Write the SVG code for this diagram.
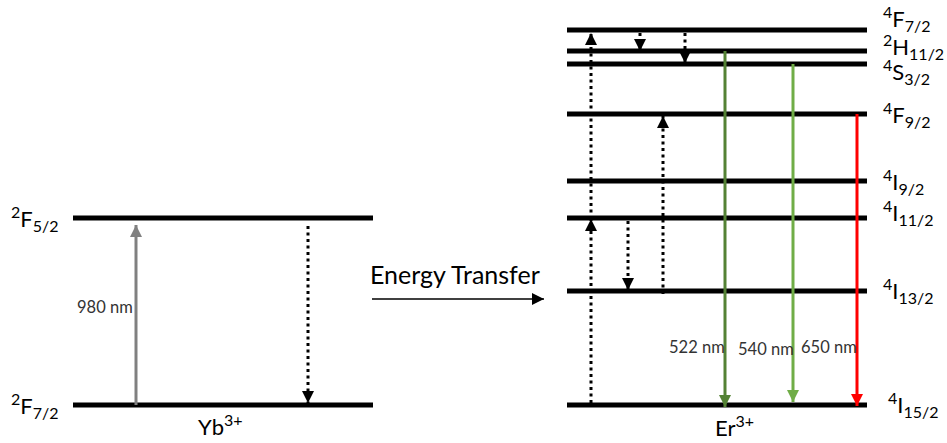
<svg xmlns="http://www.w3.org/2000/svg" width="947" height="443" viewBox="0 0 947 443">
<defs>
<style>
.lvl{stroke:#000;stroke-width:5;fill:none}
.dot{stroke:#000;stroke-width:3;stroke-dasharray:3 3.5;fill:none}
.t{font-family:Lato,"Liberation Sans",sans-serif;fill:#000}
.lab{font-size:22px}
.s{font-size:16px}
.nm{font-family:Lato,"Liberation Sans",sans-serif;font-size:16.5px;fill:#333}
</style>
<marker id="ah" viewBox="0 0 12 12" refX="12" refY="6" markerWidth="12" markerHeight="12" markerUnits="userSpaceOnUse" orient="auto"><path d="M0,0 L12,6 L0,12 Z" fill="#000"/></marker>
<marker id="ahg" viewBox="0 0 12 12" refX="12" refY="6" markerWidth="12" markerHeight="12" markerUnits="userSpaceOnUse" orient="auto"><path d="M0,0 L12,6 L0,12 Z" fill="#808080"/></marker>
<marker id="ahdg" viewBox="0 0 12 12" refX="12" refY="6" markerWidth="12" markerHeight="12" markerUnits="userSpaceOnUse" orient="auto"><path d="M0,0 L12,6 L0,12 Z" fill="#548235"/></marker>
<marker id="ahlg" viewBox="0 0 12 12" refX="12" refY="6" markerWidth="12" markerHeight="12" markerUnits="userSpaceOnUse" orient="auto"><path d="M0,0 L12,6 L0,12 Z" fill="#70AD47"/></marker>
<marker id="ahr" viewBox="0 0 12 12" refX="12" refY="6" markerWidth="12" markerHeight="12" markerUnits="userSpaceOnUse" orient="auto"><path d="M0,0 L12,6 L0,12 Z" fill="#FF0000"/></marker>
</defs>
<rect width="947" height="443" fill="#fff"/>

<g id="yb">
<line class="lvl" x1="73" y1="218" x2="373" y2="218"/>
<line class="lvl" x1="73" y1="405" x2="373" y2="405"/>
<text class="t lab" x="11" y="227"><tspan class="s" dy="-9">2</tspan><tspan dy="9">F</tspan><tspan class="s" dy="5">5/2</tspan></text>
<text class="t lab" x="11" y="414"><tspan class="s" dy="-9">2</tspan><tspan dy="9">F</tspan><tspan class="s" dy="5">7/2</tspan></text>
<text class="t lab" x="198" y="435">Yb<tspan class="s" dy="-9">3+</tspan></text>
</g>

<g id="er">
<line class="lvl" x1="567" y1="30" x2="867" y2="30"/>
<line class="lvl" x1="567" y1="51" x2="867" y2="51"/>
<line class="lvl" x1="567" y1="64" x2="867" y2="64"/>
<line class="lvl" x1="567" y1="114" x2="867" y2="114"/>
<line class="lvl" x1="567" y1="181" x2="867" y2="181"/>
<line class="lvl" x1="567" y1="218" x2="867" y2="218"/>
<line class="lvl" x1="567" y1="291" x2="867" y2="291"/>
<line class="lvl" x1="567" y1="405" x2="867" y2="405"/>
<text class="t lab" x="883" y="27"><tspan class="s" dy="-9">4</tspan><tspan dy="9">F</tspan><tspan class="s" dy="5">7/2</tspan></text>
<text class="t lab" x="883" y="55"><tspan class="s" dy="-9">2</tspan><tspan dy="9">H</tspan><tspan class="s" dy="5">11/2</tspan></text>
<text class="t lab" x="883" y="80"><tspan class="s" dy="-9">4</tspan><tspan dy="9">S</tspan><tspan class="s" dy="5">3/2</tspan></text>
<text class="t lab" x="883" y="123"><tspan class="s" dy="-9">4</tspan><tspan dy="9">F</tspan><tspan class="s" dy="5">9/2</tspan></text>
<text class="t lab" x="883" y="190"><tspan class="s" dy="-9">4</tspan><tspan dy="9">I</tspan><tspan class="s" dy="5">9/2</tspan></text>
<text class="t lab" x="883" y="221"><tspan class="s" dy="-9">4</tspan><tspan dy="9">I</tspan><tspan class="s" dy="5">11/2</tspan></text>
<text class="t lab" x="883" y="299"><tspan class="s" dy="-9">4</tspan><tspan dy="9">I</tspan><tspan class="s" dy="5">13/2</tspan></text>
<text class="t lab" x="888" y="413"><tspan class="s" dy="-9">4</tspan><tspan dy="9">I</tspan><tspan class="s" dy="5">15/2</tspan></text>
<text class="t lab" x="715" y="436">Er<tspan class="s" dy="-9">3+</tspan></text>
</g>

<g id="connectors">
<line x1="136" y1="405" x2="136" y2="225" stroke="#808080" stroke-width="3" marker-end="url(#ahg)"/>
<text class="nm" x="77" y="313">980 nm</text>
<line class="dot" x1="308" y1="226" x2="308" y2="403" marker-end="url(#ah)"/>
<line x1="372" y1="299" x2="544" y2="299" stroke="#000" stroke-width="1.5" marker-end="url(#ah)"/>
<text class="t" x="370" y="284" font-size="25">Energy Transfer</text>

<line class="dot" x1="591" y1="403" x2="591" y2="219" marker-end="url(#ah)"/>
<line class="dot" x1="591" y1="219" x2="591" y2="33" marker-end="url(#ah)"/>
<line class="dot" x1="640" y1="33" x2="640" y2="51" marker-end="url(#ah)"/>
<line class="dot" x1="685" y1="33" x2="685" y2="63" marker-end="url(#ah)"/>
<line class="dot" x1="663" y1="294" x2="663" y2="116" marker-end="url(#ah)"/>
<line class="dot" x1="628" y1="221" x2="628" y2="290" marker-end="url(#ah)"/>

<line x1="725" y1="51" x2="725" y2="407" stroke="#548235" stroke-width="3" marker-end="url(#ahdg)"/>
<line x1="793" y1="64" x2="793" y2="402" stroke="#70AD47" stroke-width="3" marker-end="url(#ahlg)"/>
<line x1="857" y1="114" x2="857" y2="406" stroke="#FF0000" stroke-width="3" marker-end="url(#ahr)"/>
<text class="nm" x="669" y="353">522 nm</text>
<text class="nm" x="738" y="355">540 nm</text>
<text class="nm" x="801" y="353">650 nm</text>
</g>
</svg>
